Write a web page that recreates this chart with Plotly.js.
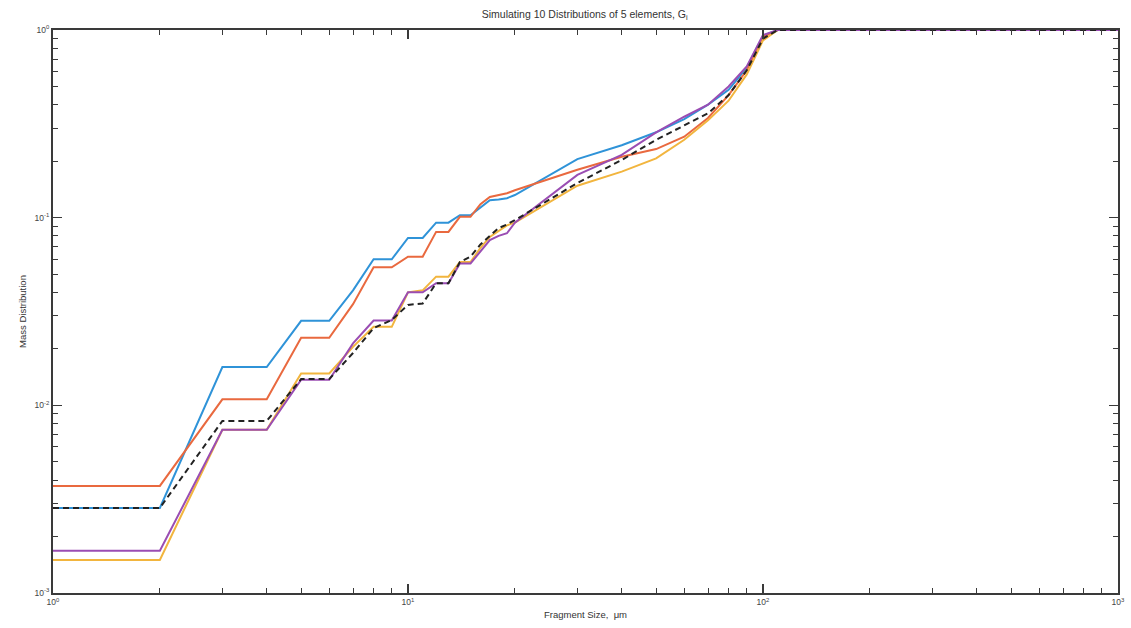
<!DOCTYPE html>
<html>
<head>
<meta charset="utf-8">
<script src="https://cdn.plot.ly/plotly-3.0.1.min.js"></script>
<style>
  html, body { margin: 0; padding: 0; background: #ffffff; }
  #chart { width: 1131px; height: 628px; }
</style>
</head>
<body>
<div id="chart"></div>
<script>
// Fragment sizes (μm) at which each cumulative mass distribution is sampled
const fragmentSize = [1, 2, 3, 4, 5, 6, 7, 8, 9, 10, 11, 12, 13, 14, 15, 16, 17, 18, 19, 20,
  30, 40, 50, 60, 70, 80, 90, 100, 110, 200, 300, 400, 500, 600, 700, 800, 900, 1000];

// Individual simulated distributions
const runA = [0.00284, 0.00284, 0.0160, 0.0160, 0.0282, 0.0282, 0.041, 0.060, 0.060, 0.078,
  0.078, 0.094, 0.094, 0.103, 0.103, 0.113, 0.124, 0.125, 0.127, 0.132,
  0.205, 0.243, 0.285, 0.335, 0.40, 0.48, 0.63, 0.93, 1, 1, 1, 1, 1, 1, 1, 1, 1, 1];
const runB = [0.00372, 0.00372, 0.01077, 0.01077, 0.0229, 0.0229, 0.0346, 0.0544, 0.0544, 0.062,
  0.062, 0.084, 0.084, 0.101, 0.101, 0.118, 0.129, 0.132, 0.135, 0.140,
  0.180, 0.211, 0.232, 0.27, 0.34, 0.45, 0.61, 0.92, 1, 1, 1, 1, 1, 1, 1, 1, 1, 1];
const runC = [0.0015, 0.0015, 0.0074, 0.0074, 0.0148, 0.0148, 0.0205, 0.0262, 0.0262, 0.040,
  0.041, 0.0485, 0.0485, 0.058, 0.058, 0.069, 0.079, 0.085, 0.091, 0.094,
  0.148, 0.176, 0.207, 0.26, 0.33, 0.42, 0.58, 0.88, 1, 1, 1, 1, 1, 1, 1, 1, 1, 1];
const runD = [0.00168, 0.00168, 0.0074, 0.0074, 0.0137, 0.0137, 0.0214, 0.0283, 0.0283, 0.040,
  0.040, 0.0447, 0.0447, 0.057, 0.057, 0.066, 0.076, 0.080, 0.0826, 0.094,
  0.169, 0.216, 0.285, 0.345, 0.40, 0.50, 0.64, 0.94, 1, 1, 1, 1, 1, 1, 1, 1, 1, 1];
// Mean distribution
const meanRun = [0.00284, 0.00284, 0.00826, 0.00826, 0.0138, 0.0138, 0.019, 0.0258, 0.0285, 0.0343,
  0.0349, 0.0447, 0.0447, 0.058, 0.062, 0.072, 0.080, 0.088, 0.092, 0.097,
  0.153, 0.203, 0.26, 0.31, 0.36, 0.45, 0.61, 0.90, 1, 1, 1, 1, 1, 1, 1, 1, 1, 1];

// Decade tick labels
const xTickVals = [1, 10, 100, 1000];
const xTickText = ['10<sup>0</sup>', '10<sup>1</sup>', '10<sup>2</sup>', '10<sup>3</sup>'];
const yTickVals = [0.001, 0.01, 0.1, 1];
const yTickText = ['10<sup>-3</sup>', '10<sup>-2</sup>', '10<sup>-1</sup>', '10<sup>0</sup>'];

// Minor ticks at 2..9 within each decade
function minorTicks(decades) {
  const out = [];
  decades.slice(0, -1).forEach(d => {
    for (let k = 2; k <= 9; k++) out.push(+(k * d).toPrecision(6));
  });
  return out;
}

const series = [
  { y: runA, color: '#2f93d8', dash: 'solid' },
  { y: runB, color: '#e9693f', dash: 'solid' },
  { y: runC, color: '#f2b53e', dash: 'solid' },
  { y: runD, color: '#9a4db3', dash: 'solid' },
  { y: meanRun, color: '#222222', dash: '6px,4px' }
];

const traces = series.map(s => ({
  x: fragmentSize,
  y: s.y,
  type: 'scatter',
  mode: 'lines',
  line: { color: s.color, width: 2, dash: s.dash },
  hoverinfo: 'x+y',
  showlegend: false
}));

const titleFont = { family: 'Liberation Sans, Arial, sans-serif', size: 10.5, color: '#333' };
const labelFont = { family: 'Liberation Sans, Arial, sans-serif', size: 9.5, color: '#333' };

function axis(extra, decades) {
  return Object.assign({
    type: 'log',
    showgrid: false,
    zeroline: false,
    showline: true,
    linecolor: '#3a3a3a',
    linewidth: 2,
    mirror: 'allticks',
    ticks: 'inside',
    ticklen: 9,
    tickwidth: 1.5,
    tickcolor: '#3a3a3a',
    tickmode: 'array',
    tickfont: { family: 'Liberation Sans, Arial, sans-serif', size: 8.5, color: '#444' },
    minor: {
      tickmode: 'array',
      tickvals: minorTicks(decades),
      ticks: 'inside',
      ticklen: 5,
      tickwidth: 1,
      tickcolor: '#3a3a3a',
      showgrid: false
    }
  }, extra);
}

const layout = {
  width: 1131,
  height: 628,
  paper_bgcolor: '#ffffff',
  plot_bgcolor: '#ffffff',
  margin: { l: 53, r: 13, t: 30, b: 35 },
  title: {
    text: 'Simulating 10 Distributions of 5 elements, G<sub>i</sub>',
    font: titleFont,
    x: 0.517, xanchor: 'center', y: 0.977, yanchor: 'middle'
  },
  xaxis: axis({
    range: [0, 3],
    tickvals: xTickVals,
    ticktext: xTickText,
    title: { text: 'Fragment Size,  μm', standoff: 5, font: labelFont }
  }, xTickVals),
  yaxis: axis({
    range: [-3, 0],
    tickvals: yTickVals,
    ticktext: yTickText,
    title: { text: 'Mass Distribution', standoff: 6, font: labelFont }
  }, yTickVals)
};

Plotly.newPlot('chart', traces, layout, { displayModeBar: false, staticPlot: true });
</script>
</body>
</html>
